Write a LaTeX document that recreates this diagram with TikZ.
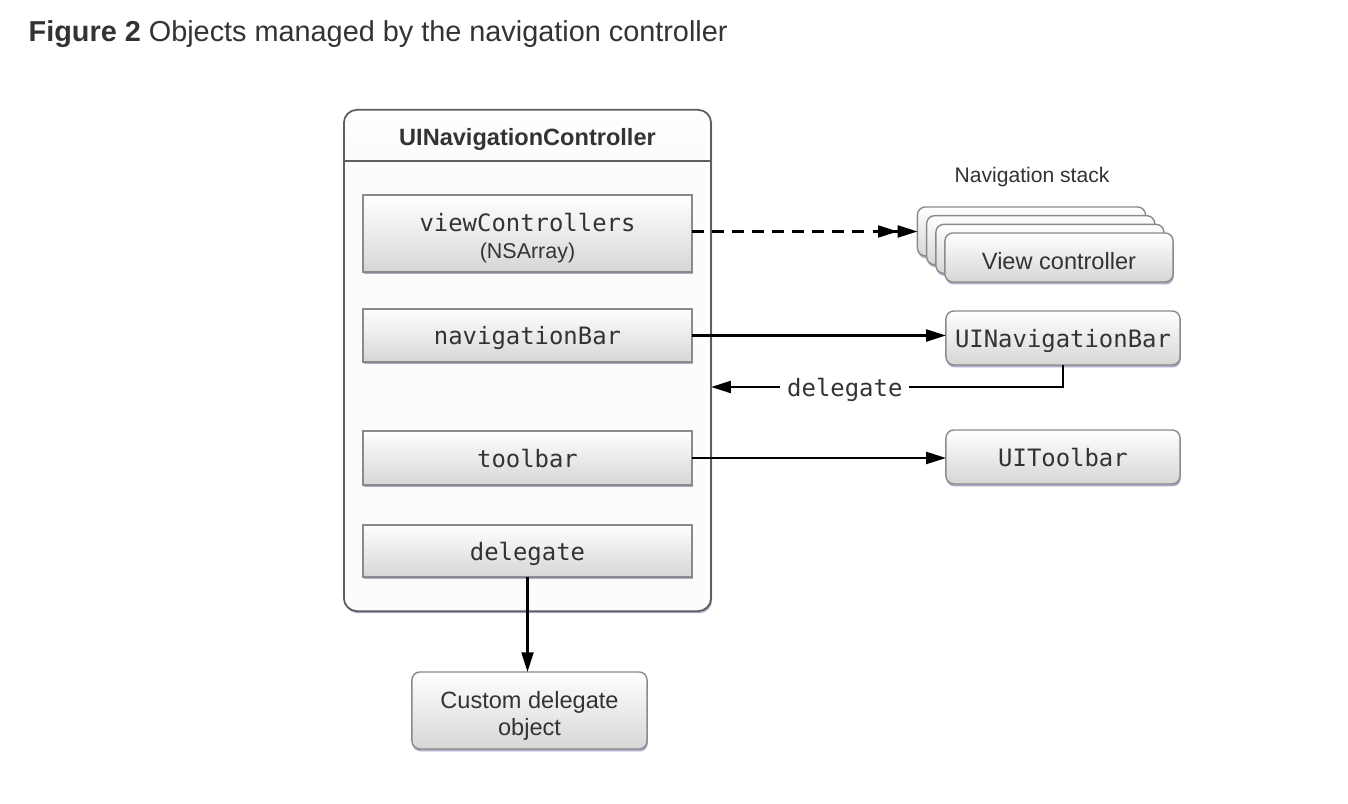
\documentclass[tikz,border=0pt]{standalone}
\usepackage{fontspec}
\setmainfont{Liberation Sans}
\setmonofont{DejaVu Sans Mono}
\usetikzlibrary{arrows.meta,shadows}
\definecolor{inkgray}{HTML}{333333}
\definecolor{edgegray}{HTML}{8A8A8A}
\definecolor{framegray}{HTML}{5E5E5E}
\definecolor{shadowblue}{HTML}{8C8AB8}
\definecolor{paneltint}{HTML}{FEFBFD}
\definecolor{shadebottom}{HTML}{D6D6D6}
\begin{document}
\begin{tikzpicture}[x=0.01cm,y=-0.01cm,
    field/.style={rectangle,draw=edgegray,line width=0.4pt,inner sep=0pt,outer sep=0pt,
        top color=white,bottom color=shadebottom,text=inkgray,text depth=0pt,
        minimum width=3.29cm,font=\ttfamily\fontsize{6.8}{8}\selectfont,
        drop shadow={shadow xshift=0.2pt,shadow yshift=-0.7pt,fill=shadowblue,opacity=0.7}},
    objbox/.style={field,rounded corners=0.08cm,minimum width=2.28cm,minimum height=0.49cm},
    sanstext/.style={font=\fontsize{6.7}{7.7}\selectfont,text height=6.6pt,text depth=0pt},
    link/.style={draw=black,line width=0.6pt,-{Triangle[length=5.6pt,width=3.4pt]}},
    frame/.style={rectangle,rounded corners=0.13cm,draw=framegray,line width=0.5pt,
        fill=paneltint,inner sep=0pt,outer sep=0pt,
        drop shadow={shadow xshift=0.3pt,shadow yshift=-0.6pt,fill=shadowblue,opacity=0.7}}
]
\useasboundingbox[fill=white] (0,0) rectangle (1348,804);

% caption
\node[anchor=base west,inner sep=0pt,text=inkgray,font=\fontsize{8.2}{10}\selectfont] (title) at (28,42)
    {\textbf{Figure 2} Objects managed by the navigation controller};

% navigation controller with its properties
\node[frame,minimum width=3.67cm,minimum height=5.01cm,
    path picture={
        \shade[top color=white,bottom color=shadebottom]
            (path picture bounding box.north west) rectangle ([yshift=-0.51cm]path picture bounding box.north east);
        \draw[framegray,line width=0.5pt]
            ([yshift=-0.51cm]path picture bounding box.north west) -- ([yshift=-0.51cm]path picture bounding box.north east);
    }] (navctl) at (527.5,360.5) {};
\node[text=inkgray,text depth=0pt,font=\bfseries\fontsize{6.7}{8}\selectfont] (hdr) at (527.5,137) {UINavigationController};

\node[field,minimum height=0.77cm,align=center,text depth={}] (vcs) at (527.5,233.5)
    {\rule{0pt}{7.8pt}viewControllers\\[-0.5pt]{\rmfamily\fontsize{6.1}{7}\selectfont (NSArray)}};
\node[field,minimum height=0.53cm] (navbar) at (527.5,335.5) {navigationBar};
\node[field,minimum height=0.54cm] (toolbar) at (527.5,458) {toolbar};
\node[field,minimum height=0.52cm] (dlg) at (527.5,551) {delegate};

% navigation stack
\node[text=inkgray,font=\fontsize{6}{7}\selectfont] (stacklbl) at (1032,177) {Navigation stack};
\foreach \i in {0,1,2}
    \node[objbox] (vc\i) at ({1031.5+9.2*\i},{231.5+8.7*\i}) {};
\node[objbox,sanstext] (vc3) at (1059,257.5) {View controller};

% other objects
\node[objbox,minimum width=2.34cm,minimum height=0.54cm] (uinb) at (1063,338) {UINavigationBar};
\node[objbox,minimum width=2.34cm,minimum height=0.54cm] (uitb) at (1063,457) {UIToolbar};
\node[objbox,minimum width=2.35cm,minimum height=0.77cm,align=center,text depth={},
    font=\fontsize{6.7}{7.7}\selectfont] (custom) at (529.5,710.5) {\rule{0pt}{7.7pt}Custom delegate\\object};

% connectors
\draw[link,dashed,dash pattern=on 3.4pt off 2.3pt,
    -{Triangle[length=5.6pt,width=3.4pt]Triangle[length=5.6pt,width=3.4pt]}]
    (vcs.east |- vc0.west) -- (vc0.west);
\draw[link] (navbar.east) -- (navbar.east -| uinb.west);
\coordinate (dret) at (navctl.east |- 0,387);
\draw[link] (uinb.south) |- node[pos=0.81,fill=white,inner sep=2pt,text=inkgray,text depth=0pt,
    font=\ttfamily\fontsize{6.8}{8}\selectfont] {delegate} (dret);
\draw[link] (toolbar.east) -- (toolbar.east -| uitb.west);
\draw[link] (dlg.south) -- (dlg.south |- custom.north);
\end{tikzpicture}
\end{document}
